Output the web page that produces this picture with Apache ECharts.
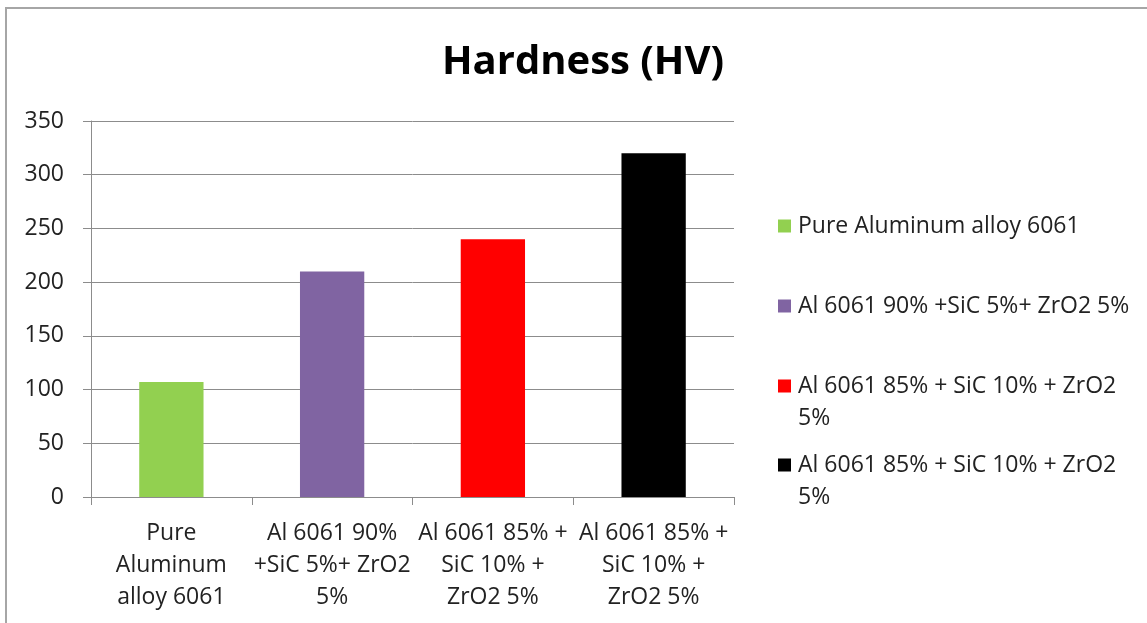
<!DOCTYPE html>
<html>
<head>
<meta charset="utf-8">
<title>Hardness (HV)</title>
<script src="https://cdn.jsdelivr.net/npm/echarts@6/dist/echarts.min.js"></script>
<style>
  html, body { margin: 0; padding: 0; background: #fff; }
  #chart { width: 1147px; height: 623px; }
</style>
</head>
<body>
<div id="chart"></div>
<script>
// Materials tested and their Vickers hardness
const categories = [
  'Pure Aluminum alloy 6061',
  'Al 6061 90% +SiC 5%+ ZrO2 5%',
  'Al 6061 85% + SiC 10% + ZrO2 5%',
  'Al 6061 85% + SiC 10% + ZrO2 5%'
];
const hardness = [107, 210, 240, 320];
const barColors = ['#92d050', '#8064a2', '#ff0000', '#000000'];

// Wrapped text for the category axis and the legend
const tickLabels = [
  'Pure\nAluminum\nalloy 6061',
  'Al 6061 90%\n+SiC 5%+ ZrO2\n5%',
  'Al 6061 85% +\nSiC 10% +\nZrO2 5%',
  'Al 6061 85% +\nSiC 10% +\nZrO2 5%'
];
const legendLabels = [
  'Pure Aluminum alloy 6061',
  'Al 6061 90% +SiC 5%+ ZrO2 5%',
  'Al 6061 85% + SiC 10% + ZrO2\n5%',
  'Al 6061 85% + SiC 10% + ZrO2\n5%'
];
const yTicks = { min: 0, max: 350, interval: 50 };

const FONT = 'Open Sans';
const FONT_SIZE = 23;
const TEXT = '#222222';
const AXIS = '#8c8c8c';

// One series per material, stacked so each bar sits centred in its own slot
const series = categories.map((name, i) => ({
  name: name,
  type: 'bar',
  stack: 'all',
  barWidth: '40%',
  itemStyle: { color: barColors[i] },
  data: categories.map((_, j) => (j === i ? hardness[i] : '-'))
}));

// Legend entries: one block per material; wrapped entries keep the swatch on the first line
const legendTops = [210, 290, 370, 449];
const legends = categories.map((name, i) => {
  const wrapped = legendLabels[i].indexOf('\n') >= 0;
  return {
    data: [{ name: name, itemStyle: { color: barColors[i] } }],
    left: 778,
    top: legendTops[i],
    padding: 0,
    itemGap: 0,
    itemWidth: 13,
    itemHeight: wrapped ? 45 : 13,
    icon: wrapped ? 'path://M0,0H13V13H0Z M0,45L0.01,45' : 'rect',
    selectedMode: false,
    formatter: () => legendLabels[i],
    textStyle: {
      fontFamily: FONT, fontSize: FONT_SIZE, color: TEXT,
      lineHeight: 32, padding: [0, 0, 0, 2]
    }
  };
});

const chart = echarts.init(document.getElementById('chart'), null, { renderer: 'canvas' });
chart.setOption({
  animation: false,
  backgroundColor: '#ffffff',
  title: {
    text: 'Hardness (HV)',
    left: 583,
    top: 43,
    padding: 0,
    textAlign: 'center',
    textStyle: { fontFamily: FONT, fontSize: 40, fontWeight: 'bold', color: '#000' }
  },
  legend: legends,
  graphic: [{
    type: 'polyline',
    silent: true,
    shape: { points: [[6, 640], [6, 8], [1160, 8]] },
    style: { stroke: '#a6a6a6', lineWidth: 2, fill: null }
  }],
  grid: { left: 91, top: 121, width: 643, height: 376, containLabel: false },
  xAxis: {
    type: 'category',
    data: categories,
    axisLine: { lineStyle: { color: AXIS, width: 1 } },
    axisTick: { show: true, length: 8, interval: 0, lineStyle: { color: AXIS } },
    axisLabel: {
      interval: 0,
      margin: 20,
      formatter: (v, idx) => tickLabels[idx],
      fontFamily: FONT, fontSize: FONT_SIZE, color: TEXT, lineHeight: 32, align: 'center'
    },
    splitLine: { show: false }
  },
  yAxis: {
    type: 'value',
    min: yTicks.min,
    max: yTicks.max,
    interval: yTicks.interval,
    axisLine: { show: true, lineStyle: { color: AXIS, width: 1 } },
    axisTick: { show: true, length: 8, lineStyle: { color: AXIS } },
    axisLabel: { margin: 27, fontFamily: FONT, fontSize: FONT_SIZE, color: TEXT },
    splitLine: { show: true, lineStyle: { color: AXIS, width: 1 } }
  },
  series: series
});
</script>
</body>
</html>
